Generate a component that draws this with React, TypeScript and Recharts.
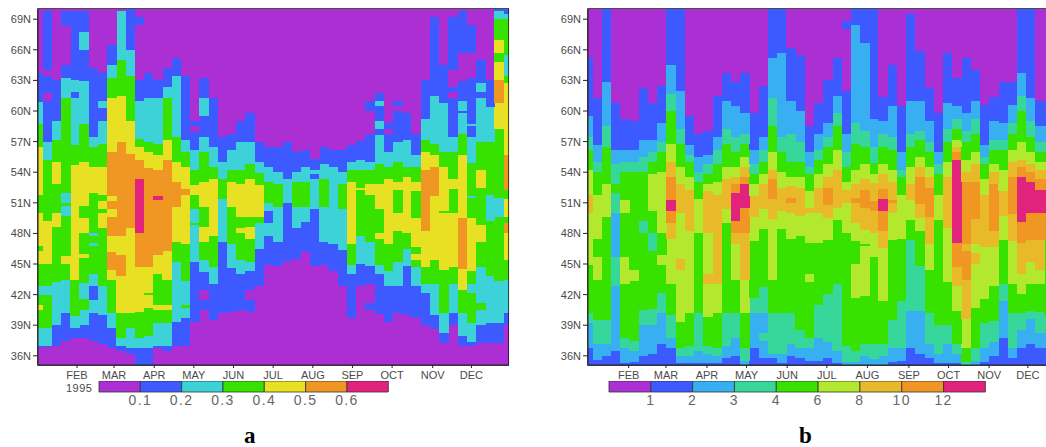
import { BarChart, Bar, Rectangle, XAxis, YAxis, ReferenceArea } from "recharts";

const FONT = "'Liberation Sans', Arial, sans-serif";
const TEXT = "#4a4a4a";

const monthLabels = ["FEB", "MAR", "APR", "MAY", "JUN", "JUL", "AUG", "SEP", "OCT", "NOV", "DEC"];
const monthWeeksA = [4.23, 8.25, 12.6, 16.9, 21.2, 25.5, 29.8, 34.1, 38.4, 42.8, 47];
const monthWeeksB = [4.41, 8.46, 12.9, 17.2, 21.6, 25.9, 30.3, 34.8, 39.1, 43.5, 47.7];
const latTicks = [36, 39, 42, 45, 48, 51, 54, 57, 60, 63, 66, 69];

const coloursA = ["#ac2fd3", "#3c5aff", "#3cd2d7", "#37e100", "#e8e123", "#f09623", "#e1237d"];
const coloursB = ["#ac2fd3", "#3c5aff", "#37aff0", "#37d79b", "#37e100", "#b2e82d", "#e8b928", "#f09623", "#e1237d"];
const legendA = ["0.1", "0.2", "0.3", "0.4", "0.5", "0.6"];
const legendB = ["1", "2", "3", "4", "6", "8", "10", "12"];

// one list per week, bottom to top: colour level, latitude where that level ends
const weeksA: number[][] = [
  [0,36.8,1,37,2,38.7,3,40.5,4,41,3,42,2,42.8,3,45,4,46.3,3,46.8,4,50,3,51.8,4,56.5,3,58.7,2,60.9,1,63.7,0,70],
  [0,36.9,1,37,2,38.7,3,42,2,42.8,3,45,4,49.2,3,55.2,2,57,1,61,0,61.8,1,63.4,0,64,1,69.8,0,70],
  [0,37,1,39,2,43.2,3,48.6,4,50,3,52.8,4,55,3,57.2,2,59,1,63,0,70],
  [0,37.5,1,40.2,2,43.4,3,45,4,45.8,3,49.7,2,50.7,3,51,2,52,3,61.3,2,63.2,1,64.5,0,68.3,1,69.8,0,70],
  [0,37.7,1,38.7,2,39.9,3,43.4,4,54.7,3,56.7,2,61.3,1,61.9,2,63,1,69.8,0,70],
  [0,37.7,1,39,2,40.5,3,41.6,2,43.1,3,45.6,4,46,3,48,4,49.5,3,50.7,4,55,3,58.7,2,62.9,1,66,2,67.7,1,69.8,0,70],
  [0,37.5,1,40.2,2,41.5,1,42.8,2,44,3,46.8,2,47.1,3,47.7,2,48,3,52,4,54.5,3,56.5,2,57.5,1,64.2,0,70],
  [0,37.2,1,40,2,42.8,3,48.5,4,50,3,50.4,4,51.2,3,51.8,4,54.5,3,56.8,2,59,1,60.3,2,61,1,63.7,0,70],
  [0,36.8,1,38.7,2,40.2,3,43.4,4,44.4,5,46.2,4,47.7,5,49.6,4,50.4,5,51.2,4,51.7,5,56,4,61.3,3,63.2,2,64.5,1,66.5,0,70],
  [0,36.5,1,37,2,37.7,3,40.2,4,43.8,5,45.9,4,47.7,5,57,4,61.5,3,65,2,69.8,0,70],
  [0,36.2,1,36.8,2,38.7,3,40.2,4,48.5,5,55.8,4,59,3,63.4,2,66,1,70],
  [1,36.8,2,37.7,3,40.3,4,44.7,5,48,6,53.3,5,55.2,4,56.5,3,57.3,2,61,1,63,0,68.4,1,69.2,0,70],
  [1,36.8,2,37.9,3,40.7,4,42,3,42.2,4,44.7,5,54.4,4,56,3,57,2,61.3,1,63.7,0,70],
  [0,36.8,1,37,2,39.2,3,40.5,4,41,3,44,4,45.9,5,51.3,6,51.7,5,54.2,4,55.7,3,56.8,2,61.3,1,63,0,70],
  [0,36.5,1,37,2,39.2,3,40.5,4,41,3,43.4,4,46.3,5,55.2,4,57.2,3,61.3,2,62.4,1,64.2,0,70],
  [0,37,1,39.3,2,45.2,3,47.2,4,50.6,5,53,4,55,3,57.5,2,63.4,1,65.2,0,70],
  [0,37,1,39.7,2,40.7,3,41,2,43.3,3,47,4,51.8,5,52.4,4,54.5,3,56,2,57.2,1,63.4,0,70],
  [0,39.3,1,45.2,2,48.8,3,49,2,50.4,3,51.8,4,52.7,3,54.2,2,56.2,1,57.9,0,58.5,1,59,0,70],
  [0,40.5,1,41.5,0,42.5,1,44.2,2,45.4,3,47.2,4,48.6,3,50.6,4,53,3,56,2,57.5,1,59.5,2,61.3,1,63.2,0,70],
  [0,39.5,1,43,2,44.7,3,47.7,4,53.3,3,54.5,2,56.5,1,61.3,0,70],
  [0,40.2,1,47.2,2,51.4,3,53.3,2,55,1,57.5,0,70],
  [0,40.3,1,44.6,2,47,3,50.6,4,53,3,54.2,2,56.2,1,57.7,0,70],
  [0,40.5,1,44,2,45.4,3,48,4,48.5,3,49.6,4,52.8,3,54.2,2,57,1,59,0,70],
  [0,40.3,1,41.5,0,42.5,1,44.3,2,45.2,3,47.5,4,48.6,3,49.6,4,53.3,3,54.8,2,57,1,59.8,0,70],
  [0,42.8,1,46.5,2,49,3,49.6,4,52.7,3,53.9,2,55,1,57,0,70],
  [0,44.9,1,47.7,2,49,1,50.2,2,51,3,53,2,54.5,1,56.5,0,70],
  [0,44.8,1,47.2,2,50.6,3,52.8,2,54,1,56.5,0,70],
  [0,45.3,1,51,2,53.3,1,57,0,70],
  [0,45.5,1,48.5,2,50.6,3,53,2,54,1,56,0,70],
  [0,46.2,1,49.1,2,50.6,3,53,2,54.5,1,56.2,0,70],
  [0,44.8,1,50.4,2,53.3,1,53.8,2,54.2,1,55.3,0,70],
  [0,44.9,1,47.2,2,50.6,3,53.3,2,54.8,1,56.5,0,70],
  [0,44.3,1,47,2,54.5,1,56.2,0,70],
  [0,42.8,1,46.4,2,50.4,3,52.8,2,54,1,56.2,0,70],
  [0,39.7,1,44,2,44.9,3,47,4,53,3,54.2,2,55,1,56.7,0,70],
  [0,42.8,1,45,2,47.7,3,52.3,4,52.5,3,54.2,2,55.2,1,57.1,0,70],
  [0,40.5,1,41.2,0,43,1,44.8,2,47.2,3,51.8,4,52.8,3,54.2,2,55,1,57.7,0,60,1,61,0,70],
  [0,40.1,1,44,2,44.9,3,47.5,4,48,3,50.4,4,52.8,3,54.8,2,57.6,1,58.2,2,59,1,60.5,2,61,1,61.8,0,70],
  [0,39.3,1,42.8,2,44.3,3,47,4,53.3,3,54.5,2,56,1,57.7,0,58.2,1,58.8,0,70],
  [0,40.2,1,42.8,2,45.2,3,48.2,4,50,3,52.3,4,53,3,55,2,57,1,60,0,60.5,1,61,0,70],
  [0,40,1,44.8,2,46.5,3,48,4,53.5,3,54.5,2,57.2,1,59.8,0,70],
  [0,39.7,1,42.8,2,44.7,3,45.4,4,46,3,46.7,4,49.5,3,52.2,4,53,3,54.5,2,55.7,1,57.7,0,70],
  [0,39,1,42.2,2,43,3,44.7,4,48.2,5,54.2,4,56,3,57.2,2,59.2,1,63,0,70],
  [0,38.6,1,40,2,43,3,45.4,4,51.7,5,54.5,4,55.7,3,56.8,2,61.5,1,69.2,0,70],
  [0,37.3,1,38.2,2,40.2,3,44.4,4,50,3,50.2,4,54.5,3,56,2,60.8,1,64.5,0,70],
  [0,39,1,40.2,2,43,3,44.7,4,50,3,52.4,4,53.3,3,56,2,57.5,1,61.3,0,61.9,1,62.4,0,64,1,69.2,0,70],
  [0,37,1,37.9,2,40.2,3,42.5,4,44.5,5,49.5,4,55.7,3,57.7,2,59.8,1,60,2,61,1,62.9,0,65.7,1,69.8,0,70],
  [0,37,1,37.4,2,39.2,3,42.2,2,43,3,44.3,4,49.5,3,51.5,2,51.7,3,54.9,2,57.5,1,58.5,2,58.7,1,63.2,0,65.7,1,68.4,0,70],
  [0,37.3,1,39,2,40.5,3,41.2,2,44.7,3,47.2,4,48.8,3,52.5,4,54.2,3,57,2,61.3,1,61.9,2,62.7,1,65,0,70],
  [0,37.3,1,39.2,2,43.8,3,49.2,2,51.8,3,57,2,60.4,1,63,0,70],
  [0,37.3,1,39.2,2,43.3,3,49.6,2,51.5,3,58.2,4,60.8,5,63,4,64.8,3,65.7,4,67,3,69,2,69.8,1,70],
  [0,39,1,40.2,2,43.4,3,45.4,4,48,5,49,3,49.6,4,51.4,3,52.3,5,55.7,4,62.7,3,63.4,2,65.5,3,69,2,69.5,1,70],
];

const weeksB: number[][] = [
  [1,36.8,2,39.2,3,40.2,4,44.9,5,50,6,51.8,5,54.2,4,56.2,3,57.5,2,59.5,1,65.2,0,70],
  [1,35.6,2,37.2,3,39.5,4,43.4,5,45.7,4,47.5,5,51.8,4,54,3,55,2,56.7,1,61.3,0,70],
  [1,36,2,37.2,3,39.5,4,49.6,5,52.8,4,56.5,3,58.5,2,62.8,1,70],
  [1,36.5,2,42.8,3,45.7,2,50,3,52,4,52.8,3,54.8,2,56.2,1,60.8,0,70],
  [1,35.3,2,36.8,3,37.7,4,43,5,45.7,4,50,5,51.3,4,54,3,55,2,56.2,1,59.2,0,70],
  [1,35.4,2,36.5,3,37.5,4,43.3,5,44.4,4,54,3,55,2,56.2,1,59,0,70],
  [1,36,2,39,3,40.5,4,48,3,49.2,4,54,3,55.5,2,57.2,1,62.3,0,70],
  [1,36.2,2,39,3,40.6,4,46.3,3,48,4,50.2,5,53.8,4,55,3,56,2,57.2,1,60.8,0,70],
  [1,37.2,2,40.2,3,42.2,4,44.9,5,45.9,4,48,5,54,4,56,3,57,2,58.8,1,62.5,0,70],
  [1,36.8,2,37.7,3,40,4,43,5,47.5,6,49,7,50.2,8,51.3,7,53.5,6,55,5,56.8,4,60,3,61.7,2,64.5,1,70],
  [1,35.3,2,36,3,36.8,4,39.3,5,44.4,6,45.5,5,50,6,52.8,5,54.5,4,56.8,3,58.2,2,62,1,70],
  [1,35.3,2,36,3,37,4,40.2,5,48.2,6,52.3,5,53.5,4,55,3,55.7,2,56.7,1,59.5,0,70],
  [1,35.3,2,36.5,3,40.2,4,48,5,51.4,4,53,3,54,2,55.5,1,57.7,0,70],
  [1,35.3,2,36.2,3,37,4,39.8,5,43,6,44,5,48,6,52.2,5,52.8,4,53.8,3,54.8,2,55.7,1,58,0,70],
  [1,35.3,2,36,3,36.8,4,40.2,5,43,6,51.8,5,53,4,54.8,3,56.2,2,57.5,1,61.5,0,70],
  [1,35.8,2,37,3,40.2,4,49,5,50.4,6,53.3,5,54.5,4,56.8,3,58.2,2,61,1,63.7,0,70],
  [1,36,2,37.7,3,40.2,4,43.4,5,47,6,48,7,49.2,8,52,7,52.8,6,53.5,5,54.5,4,56,3,57.5,2,60.5,1,62.8,0,70],
  [2,35.5,3,36.8,4,40.2,5,43.4,6,48,7,50.5,8,52.8,7,53.5,6,54.5,5,55.5,4,56.8,3,57.7,2,59.8,1,63.7,0,70],
  [1,36.8,2,40.2,3,41.7,4,47.3,5,49.6,6,51.7,5,52.8,4,53.8,3,54.8,2,56.2,1,59.8,0,70],
  [1,35.8,2,37.5,3,38.2,2,40.2,3,42.7,4,48.4,5,50.4,6,52.8,5,53.8,4,55,3,56.2,2,57.5,1,62.5,0,70],
  [1,35.8,2,36.2,3,40.2,4,43.4,5,49.4,6,51.4,7,53.3,6,54.2,5,56,4,58.5,3,61.3,2,65.2,1,70],
  [1,35.3,2,36.2,3,40.2,4,48.4,5,50.2,6,52.5,5,54,4,56,3,57.5,2,65.7,1,70],
  [1,36,2,37.2,3,40.2,4,47.5,5,50,6,51,7,51.5,6,52.6,5,53.5,4,55,3,57.7,2,61,1,66.2,0,70],
  [1,35.8,2,36.8,3,38.5,4,47.7,5,49.7,6,52.5,5,53.5,4,55,3,57,2,60,1,65.5,0,70],
  [1,35.5,2,36.8,3,37.7,4,43.2,5,44,4,47.1,5,50,6,50.5,5,52.2,4,53.8,3,54.5,2,56,1,58.5,0,70],
  [1,35.5,2,37.7,3,41,4,47.1,5,50,6,52.5,5,53.8,4,55.2,3,56.2,2,57.7,1,60.8,0,70],
  [1,35.8,2,37.4,3,42.1,4,47.4,5,49.5,6,50.8,7,52.5,6,53.5,5,54.8,4,56.5,3,57.5,2,58.8,1,63,0,70],
  [1,35.3,2,36.5,3,43,4,49.3,5,50.5,6,54.2,5,56.2,4,58.5,3,59.8,2,61.5,1,65.2,0,70],
  [2,35.4,3,37,4,48,5,51,6,52.3,5,53,4,54.5,3,56,2,57.7,1,62,0,68,1,68.8,0,70],
  [2,35.4,3,36.5,4,41.7,5,45,4,47.3,5,49,6,51,7,51.5,6,52.8,5,54.2,4,56.8,3,58.8,2,68.4,1,70],
  [2,36,3,37.2,4,41.9,5,46.8,4,47,5,48.3,6,50.5,7,52.3,6,53.3,5,54.8,4,56.5,3,58,2,66.7,1,70],
  [2,35.7,3,37.2,4,45.7,5,48,6,50.2,7,51.2,6,52.9,5,53.8,4,54.9,3,56.5,2,59.2,1,70],
  [2,36,3,37.2,4,41.4,5,46.6,6,48.2,7,50.2,8,51.4,7,52.4,6,53.8,5,54.8,4,56.5,3,57.7,2,59,1,61.4,0,70],
  [1,35.4,2,36.8,3,39.5,4,47.4,5,50,6,51,7,51.3,6,53,5,54.2,4,56.2,3,57.5,2,60.5,1,64.5,0,70],
  [1,35.5,2,36.8,3,41.4,4,47.5,5,51.8,4,53.5,3,54.2,2,56,1,60.5,0,70],
  [1,36.8,2,40.4,3,47.4,4,49.3,5,51.3,6,52.8,5,54.5,4,56.5,3,57.7,2,61,1,69.5,0,70],
  [1,36.2,2,40.4,3,44.8,4,48.2,5,49.5,6,50.9,7,53.5,6,54.5,5,55.5,4,57.2,3,58,2,61,1,65.9,0,70],
  [1,35.8,2,37.2,3,40.2,4,44.4,5,47,6,49.6,7,52.5,6,53.5,5,54.5,4,56,3,57,2,59,1,62.3,0,70],
  [1,35.3,2,36.2,3,39,4,49.3,5,51.8,4,53.8,3,54.8,2,56,1,59.8,0,70],
  [1,35.3,2,37.2,3,39,4,43.2,5,48.5,6,53.5,5,55,4,57,3,58.2,2,60.8,1,65.7,0,70],
  [1,35.3,2,36.2,3,37.2,4,40.4,5,42.8,6,44.7,7,47.1,8,55.2,7,56,6,56.5,5,57.2,4,58.2,3,59.2,2,60.5,1,63.2,0,70],
  [3,35.4,4,36.8,5,39.6,6,43.4,7,46.3,6,47,7,53,6,54,5,55.2,4,57,3,58,2,59.8,1,65.2,0,70],
  [2,35.5,3,36.8,4,40.7,5,45,6,46.1,5,47,6,49.4,7,53,6,54.8,5,56,4,57.7,3,59.2,2,61,1,64,0,70],
  [1,35.4,2,36.8,3,39.2,4,41.6,5,46.7,6,51.8,5,53.3,4,54.8,3,55.5,2,56.7,1,60.6,0,70],
  [1,36,2,37.4,3,39.4,4,42.8,5,46.7,6,48.2,7,52.8,6,54,5,54.8,4,56.2,3,57.2,2,59,1,61.4,0,70],
  [1,37.7,2,41.4,3,43,4,47.4,5,49.7,6,52.2,5,54.2,4,56.2,3,57.2,2,58.8,1,62.8,0,70],
  [1,35.8,2,36.8,3,40.2,4,43,5,47.3,6,49.9,7,53.5,6,55,5,56.2,4,57.7,3,58.8,2,60.6,1,62.8,0,70],
  [1,36.8,2,38.5,3,40.2,4,42.1,5,44,6,47.1,7,49.1,8,53.5,7,54.5,6,55.2,5,57,4,60,3,61.5,2,63.7,1,70],
  [1,37.2,2,39.6,3,40.4,4,43,5,45.2,6,47.4,7,50,8,53,7,54,6,54.8,5,56,4,57.5,3,59,2,61.3,1,70],
  [1,36.8,2,38.2,3,40.3,4,43,5,44.4,6,47.4,7,50,8,52.3,7,53.3,6,54.2,5,55,4,56,3,57,2,58.5,1,61,0,70],
  [1,36.8,2,38.5,3,40,4,47.5,7,50,8,52.3,7,53.3,6,54.2,5,55,4,56,3,57,2,58.5,1,61,0,70],
];

function HeatPanel({ weeks, colours, monthWeeks, left }: { weeks: number[][]; colours: string[]; monthWeeks: number[]; left: number }) {
  const runCount = Math.max(...weeks.map(w => w.length / 2));
  const rows = weeks.map((w, week) => {
    const row: Record<string, number> = { week };
    let prev = 0;
    for (let i = 0; i < runCount; i++) {
      const top = w[i * 2 + 1];
      row[`r${i}`] = top === undefined ? 0 : top - prev;
      row[`l${i}`] = w[i * 2] ?? 0;
      if (top !== undefined) prev = top;
    }
    return row;
  });
  const runs = Array.from({ length: runCount }, (_, i) => i);

  return (
    <div style={{ position: "absolute", left, top: 0 }}>
      <BarChart width={530} height={400} data={rows} margin={{ top: 9, right: 21.7, bottom: 5, left: 0 }} barCategoryGap={0} barGap={0}>
        <XAxis
          dataKey="week"
          type="number"
          domain={[0, 51]}
          allowDataOverflow
          ticks={monthWeeks}
          interval={0}
          tickFormatter={(_: number, i: number) => monthLabels[i]}
          tick={{ fontSize: 11, fontFamily: FONT, fill: TEXT }}
          tickSize={3}
          tickMargin={3}
          height={30}
          stroke="#222"
        />
        <YAxis
          type="number"
          domain={[35.1, 70]}
          allowDataOverflow
          ticks={latTicks}
          interval={0}
          tickFormatter={(v: number) => `${v}N`}
          tick={{ fontSize: 11, fontFamily: FONT, fill: TEXT }}
          tickSize={5}
          tickMargin={2}
          width={38}
          stroke="#222"
        />
        {runs.map(i => (
          <Bar
            key={i}
            dataKey={`r${i}`}
            stackId="lat"
            isAnimationActive={false}
            // a hair wider than the band so rounding leaves no white seam between weeks
            shape={(p: any) => <Rectangle {...p} width={p.width + 0.5} fill={colours[p.payload[`l${i}`]]} shapeRendering="crispEdges" />}
          />
        ))}
        <ReferenceArea x1={0} x2={51} y1={35.1} y2={70} fill="none" stroke="#111" strokeWidth={1.5} ifOverflow="visible" />
      </BarChart>
    </div>
  );
}

function ColourBar({ colours, labels, left, width }: { colours: string[]; labels: string[]; left: number; width: number }) {
  const row: Record<string, number> = {};
  colours.forEach((_, i) => { row[`c${i}`] = 1; });
  return (
    <div style={{ position: "absolute", left: left - 15, top: 380.5 }}>
      <BarChart layout="vertical" width={width + 30} height={34} data={[row]} margin={{ top: 0, right: 15, bottom: 0, left: 15 }} barCategoryGap={0}>
        <XAxis
          type="number"
          domain={[0, colours.length]}
          ticks={labels.map((_, i) => i + 1)}
          interval={0}
          tickFormatter={(_: number, i: number) => labels[i]}
          tick={{ fontSize: 14, fontFamily: FONT, fill: "#666", letterSpacing: 1.4, dy: -2 }}
          axisLine={false}
          tickLine={false}
          tickMargin={0}
          height={23.5}
        />
        <YAxis type="category" hide />
        {colours.map((c, i) => (
          <Bar key={c} dataKey={`c${i}`} stackId="bar" fill={c} stroke="#333" strokeWidth={0.8} isAnimationActive={false} />
        ))}
      </BarChart>
    </div>
  );
}

const panelLetter = { position: "absolute", top: 426, lineHeight: "20px", fontFamily: "'Liberation Serif', serif", fontWeight: 700, fontSize: 23 } as const;

export default function App() {
  return (
    <div style={{ position: "fixed", left: 0, top: 0, width: 1046, height: 447, overflow: "hidden", background: "#fff" }}>
      <HeatPanel weeks={weeksA} colours={coloursA} monthWeeks={monthWeeksA} left={0} />
      <HeatPanel weeks={weeksB} colours={coloursB} monthWeeks={monthWeeksB} left={550.3} />
      <div style={{ position: "absolute", left: 66, top: 382, fontFamily: FONT, fontSize: 11, color: TEXT, letterSpacing: 0.5 }}>1995</div>
      <ColourBar colours={coloursA} labels={legendA} left={99} width={289.3} />
      <ColourBar colours={coloursB} labels={legendB} left={609.3} width={376.4} />
      <div style={{ ...panelLetter, left: 244 }}>a</div>
      <div style={{ ...panelLetter, left: 799 }}>b</div>
    </div>
  );
}
